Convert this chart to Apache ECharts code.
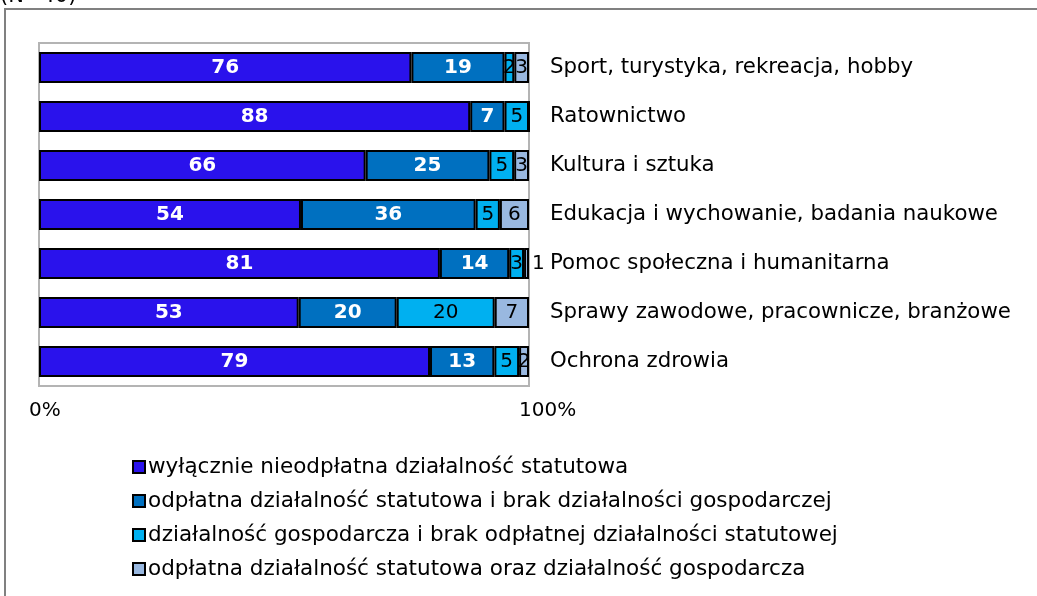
<!DOCTYPE html>
<html><head><meta charset="utf-8">
<script src="https://cdn.jsdelivr.net/npm/echarts@6/dist/echarts.min.js"></script>
<style>html,body{margin:0;padding:0;background:#fff}#c{width:1037px;height:596px}</style>
</head><body><div id="c"></div>
<script>
const categories = ['Sport, turystyka, rekreacja, hobby','Ratownictwo','Kultura i sztuka','Edukacja i wychowanie, badania naukowe','Pomoc społeczna i humanitarna','Sprawy zawodowe, pracownicze, branżowe','Ochrona zdrowia'];
const seriesNames = ['wyłącznie nieodpłatna działalność statutowa','odpłatna działalność statutowa i brak działalności gospodarczej','działalność gospodarcza i brak odpłatnej działalności statutowej','odpłatna działalność statutowa oraz działalność gospodarcza'];
const s1 = [76, 88, 66, 54, 81, 53, 79];
const s2 = [19, 7, 25, 36, 14, 20, 13];
const s3 = [2, 5, 5, 5, 3, 20, 5];
const s4 = [3, 0, 3, 6, 1, 7, 2];
const xTicks = ['0%', '100%'];
const titleText = '(N=40)';

const colors = ['#2a12ec', '#0070c0', '#00b0f0', '#99b8e0'];
const all = [s1, s2, s3, s4];
const sums = categories.map((_, i) => all.reduce((a, s) => a + s[i], 0));

const series = all.map((arr, k) => ({
  name: seriesNames[k],
  type: 'bar',
  stack: 'total',
  barCategoryGap: '37%',
  itemStyle: { color: colors[k], borderColor: '#000', borderWidth: 2 },
  label: {
    show: true,
    position: 'inside',
    color: k < 2 ? '#fff' : '#000',
    fontWeight: k < 2 ? 'bold' : 'normal',
    fontSize: 20,
    fontFamily: 'DejaVu Sans',
    formatter: p => p.data.raw ? String(p.data.raw) : ''
  },
  data: arr.map((v, i) => {
    const d = { value: v / sums[i] * 100, raw: v };
    if (k === 3 && v === 1) d.label = { position: 'right', distance: 3 };
    return d;
  })
}));

const chart = echarts.init(document.getElementById('c'));
chart.setOption({
  animation: false,
  textStyle: { fontFamily: 'DejaVu Sans' },
  graphic: [
    { type: 'rect', shape: { x: 5, y: 9, width: 1100, height: 700 }, style: { fill: 'none', stroke: '#808080', lineWidth: 2 }, silent: true },
    { type: 'text', left: 0, top: -14, style: { text: titleText, font: '21px "DejaVu Sans"', fill: '#000' } }
  ],
  grid: { left: 39, top: 43, width: 490, height: 343, show: true, borderColor: '#b4b4b4', borderWidth: 2, backgroundColor: 'transparent' },
  legend: {
    orient: 'vertical', left: 127, top: 451,
    icon: 'rect',
    itemWidth: 12, itemHeight: 12, itemGap: 12,
    textStyle: { fontSize: 21.5, color: '#000', fontFamily: 'DejaVu Sans', padding: [0,0,0,-2] },
    data: seriesNames
  },
  xAxis: {
    type: 'value', min: 0, max: 100, interval: 100,
    axisLine: { show: false }, axisTick: { show: false }, splitLine: { show: false },
    axisLabel: { margin: 15, fontSize: 20, color: '#000', align: 'left', padding: [0,0,0,-10], formatter: v => xTicks[v / 100] }
  },
  yAxis: {
    type: 'category', data: categories, inverse: true, position: 'right',
    axisLine: { show: false }, axisTick: { show: false },
    axisLabel: { margin: 21, fontSize: 21.3, color: '#000', align: 'left' }
  },
  series
});
</script></body></html>
